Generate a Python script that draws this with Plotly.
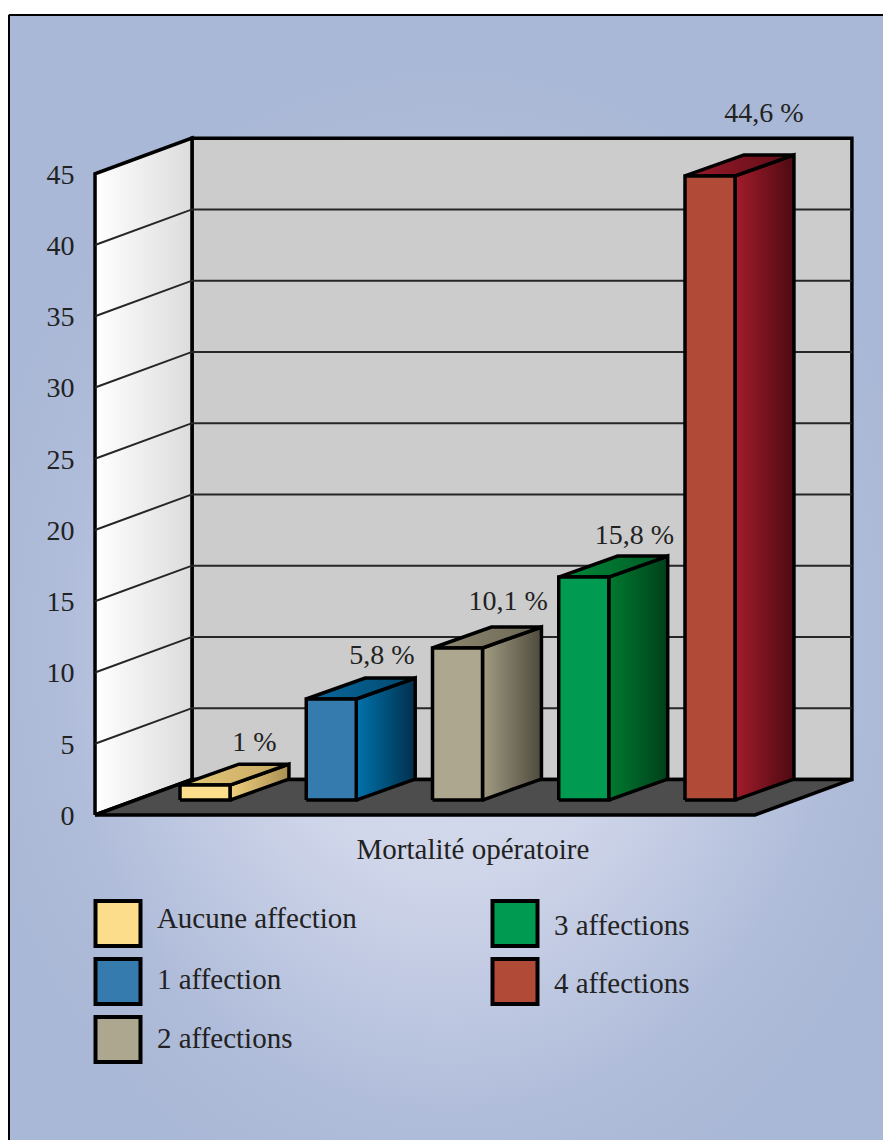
import base64
import plotly.graph_objects as go

W_PX, H_PX = 883, 1140

# ---- data ----
categories = ["Aucune affection", "1 affection", "2 affections", "3 affections", "4 affections"]
reported_values = [1, 5.8, 10.1, 15.8, 44.6]
bar_heights = [1.05, 7.09, 10.67, 15.65, 43.8]
value_labels = ["1 %", "5,8 %", "10,1 %", "15,8 %", "44,6 %"]
label_heights = [4.95, 11.1, 14.85, 19.5, 49.1]
label_shift = [0.59, 0.6, 0.6, 0.6, 0.626]
y_ticks = [0, 5, 10, 15, 20, 25, 30, 35, 40, 45]
group_label = "Mortalité opératoire"
legend_cols = [0, 0, 0, 1, 1]
legend_rows = [0, 1, 2, 0, 1]
legend_text_rows = [-0.055, 0.997, 2.03, 0.066, 1.066]

front_colors = ["#fbdd8c", "#367bae", "#ada78f", "#009b50", "#b24a38"]
side_start = ["#f0d07e", "#0073ab", "#a29c83", "#007a30", "#a21c2b"]
side_end = ["#a88f52", "#022f4c", "#4e4a3c", "#00401a", "#4d0a12"]
top_start = ["#e6c878", "#0a6a9e", "#8f8972", "#008a3a", "#9a1a2a"]
top_end = ["#c4a862", "#01486f", "#6a6553", "#005a25", "#5e0d16"]

# ---- projection of the fake 3D chart, in axis units ----
BAR_W, BAR_DX, BAR_DY, BAR_BASE = 0.396, 0.467, 1.47, 1.05
WALL_DX, WALL_DY = 0.768, 2.5
X_MIN, FLOOR_END = -0.673, 4.554
X_PX0, X_SCALE = 180, 126.25      # pixel of x=0, pixels per category
Y_PX0, Y_SCALE = 815, 14.25       # pixel of y=0, pixels per unit
Y_MAX = max(y_ticks)
FONT = "Liberation Serif"
FS = 28
FS_WIDE = 29
TXT = "#222222"
INK = "#000000"

fig = go.Figure()


def poly(xs, ys, fill=None, grad=None, width=3.5, color=INK):
    kw = dict(fillcolor=fill) if fill else dict(fillgradient=dict(type="horizontal", colorscale=[[0, grad[0]], [1, grad[1]]]))
    fig.add_trace(go.Scatter(x=xs + xs[:1], y=ys + ys[:1], mode="lines", fill="toself",
                             line=dict(color=color, width=width), hoverinfo="skip",
                             showlegend=False, **kw))


bx0, bx1 = X_MIN + WALL_DX, FLOOR_END + WALL_DX
# back wall
poly([bx0, bx1, bx1, bx0], [WALL_DY, WALL_DY, Y_MAX + WALL_DY, Y_MAX + WALL_DY], fill="#cccccc")
# left wall
poly([X_MIN, bx0, bx0, X_MIN], [0, WALL_DY, Y_MAX + WALL_DY, Y_MAX], grad=("#ffffff", "#dcdcdc"))
# floor
poly([X_MIN, bx0, bx1, FLOOR_END], [0, WALL_DY, WALL_DY, 0], fill="#4d4d4d")
# grid lines
gx, gy = [], []
for t in y_ticks[1:-1]:
    gx += [X_MIN, bx0, bx1, None]
    gy += [t, t + WALL_DY, t + WALL_DY, None]
fig.add_trace(go.Scatter(x=gx, y=gy, mode="lines", line=dict(color="#262626", width=2),
                         hoverinfo="skip", showlegend=False))

# bars
for i, h in enumerate(bar_heights):
    x0, x1 = i, i + BAR_W
    y0, y1 = BAR_BASE, BAR_BASE + h
    poly([x1, x1 + BAR_DX, x1 + BAR_DX, x1], [y0, y0 + BAR_DY, y1 + BAR_DY, y1], grad=(side_start[i], side_end[i]))
    poly([x0, x1, x1 + BAR_DX, x0 + BAR_DX], [y1, y1, y1 + BAR_DY, y1 + BAR_DY], grad=(top_start[i], top_end[i]))
    poly([x0, x1, x1, x0], [y0, y0, y1, y1], fill=front_colors[i])

# value labels
fig.add_trace(go.Scatter(x=[i + s for i, s in enumerate(label_shift)], y=label_heights, mode="text",
                         text=value_labels, textposition="middle center",
                         textfont=dict(family=FONT, size=FS, color=TXT),
                         hoverinfo="skip", showlegend=False))

# legend drawn on its own full-page axes (columns / rows)
COL_PX, ROW_PX, COL0_X, ROW0_Y = 397, 58, 118, 923.5
for i, name in enumerate(categories):
    fig.add_trace(go.Scatter(x=[legend_cols[i]], y=[legend_rows[i]], xaxis="x2", yaxis="y2", mode="markers",
                             marker=dict(symbol="square", size=45, color=front_colors[i], line=dict(color=INK, width=4)),
                             hoverinfo="skip", showlegend=False))
    fig.add_trace(go.Scatter(x=[legend_cols[i] + 0.098], y=[legend_text_rows[i]], xaxis="x2", yaxis="y2", mode="text",
                             text=[name], textposition="middle right",
                             textfont=dict(family=FONT, size=FS_WIDE, color=TXT),
                             hoverinfo="skip", showlegend=False))

# background radial gradient
svg = f'''<svg xmlns="http://www.w3.org/2000/svg" width="{W_PX}" height="{H_PX}" viewBox="0 0 {W_PX} {H_PX}">
<defs><radialGradient id="g" gradientUnits="userSpaceOnUse" cx="0" cy="0" r="1"
 gradientTransform="translate(450 650) scale(500 600)">
<stop offset="0" stop-color="#d8ddef"/><stop offset="0.37" stop-color="#d0d6ea"/>
<stop offset="0.8" stop-color="#aebbd9"/><stop offset="1" stop-color="#a9b8d6"/></radialGradient></defs>
<rect width="{W_PX}" height="{H_PX}" fill="#a9b8d6"/><rect width="{W_PX}" height="{H_PX}" fill="url(#g)"/></svg>'''
src = "data:image/svg+xml;base64," + base64.b64encode(svg.encode()).decode()

DOM_L, DOM_T, DOM_B = 60, 90, 830   # page pixels of the plot area (wider than the walls so nothing is clipped)

fig.update_layout(
    template="none",
    width=W_PX, height=H_PX, margin=dict(l=0, r=0, t=0, b=0, pad=0),
    paper_bgcolor="white", plot_bgcolor="rgba(0,0,0,0)", showlegend=False,
    font=dict(family=FONT, size=FS, color=TXT),
    images=[dict(source=src, xref="paper", yref="paper", x=0, y=1, sizex=1, sizey=1,
                 sizing="stretch", xanchor="left", yanchor="top", layer="below")],
    xaxis=dict(domain=[DOM_L / W_PX, 1], range=[(DOM_L - X_PX0) / X_SCALE, (W_PX - X_PX0) / X_SCALE],
               anchor="free", position=1 - Y_PX0 / H_PX,
               showgrid=False, zeroline=False, showline=False,
               automargin=False, tickmode="array", tickvals=[2.32], ticktext=[group_label], ticks="outside", ticklen=8,
               tickcolor="rgba(0,0,0,0)", tickfont=dict(family=FONT, size=FS_WIDE, color=TXT)),
    yaxis=dict(domain=[1 - DOM_B / H_PX, 1 - DOM_T / H_PX],
               range=[(Y_PX0 - DOM_B) / Y_SCALE, (Y_PX0 - DOM_T) / Y_SCALE],
               anchor="free", position=95 / W_PX,
               showgrid=False, zeroline=False,
               automargin=False, showline=False, tickmode="array", tickvals=y_ticks, ticktext=[str(t) for t in y_ticks],
               ticks="outside", ticklen=15, tickcolor="rgba(0,0,0,0)",
               tickfont=dict(family=FONT, size=FS, color=TXT)),
    xaxis2=dict(domain=[0, 1], range=[-COL0_X / COL_PX, (W_PX - COL0_X) / COL_PX], visible=False, anchor="y2", automargin=False),
    yaxis2=dict(domain=[0, 1], range=[(H_PX - ROW0_Y) / ROW_PX, -ROW0_Y / ROW_PX], visible=False, anchor="x2", automargin=False),
)
# frame: white band on the top and left, black line, gradient inside
fig.add_shape(type="line", xref="paper", yref="paper", x0=9 / W_PX, x1=1, y0=1 - 15 / H_PX, y1=1 - 15 / H_PX,
              line=dict(color=INK, width=2))
fig.add_shape(type="line", xref="paper", yref="paper", x0=9 / W_PX, x1=9 / W_PX, y0=0, y1=1 - 15 / H_PX,
              line=dict(color=INK, width=2))
fig.add_shape(type="rect", xref="paper", yref="paper", x0=0, x1=1, y0=1 - 14 / H_PX, y1=1,
              line=dict(width=0), fillcolor="white", layer="below")
fig.add_shape(type="rect", xref="paper", yref="paper", x0=0, x1=8 / W_PX, y0=0, y1=1,
              line=dict(width=0), fillcolor="white", layer="below")

fig.write_html("out.html", config={"displayModeBar": False, "responsive": False},
               post_script="document.body.style.margin='0';document.body.style.overflow='hidden';")
